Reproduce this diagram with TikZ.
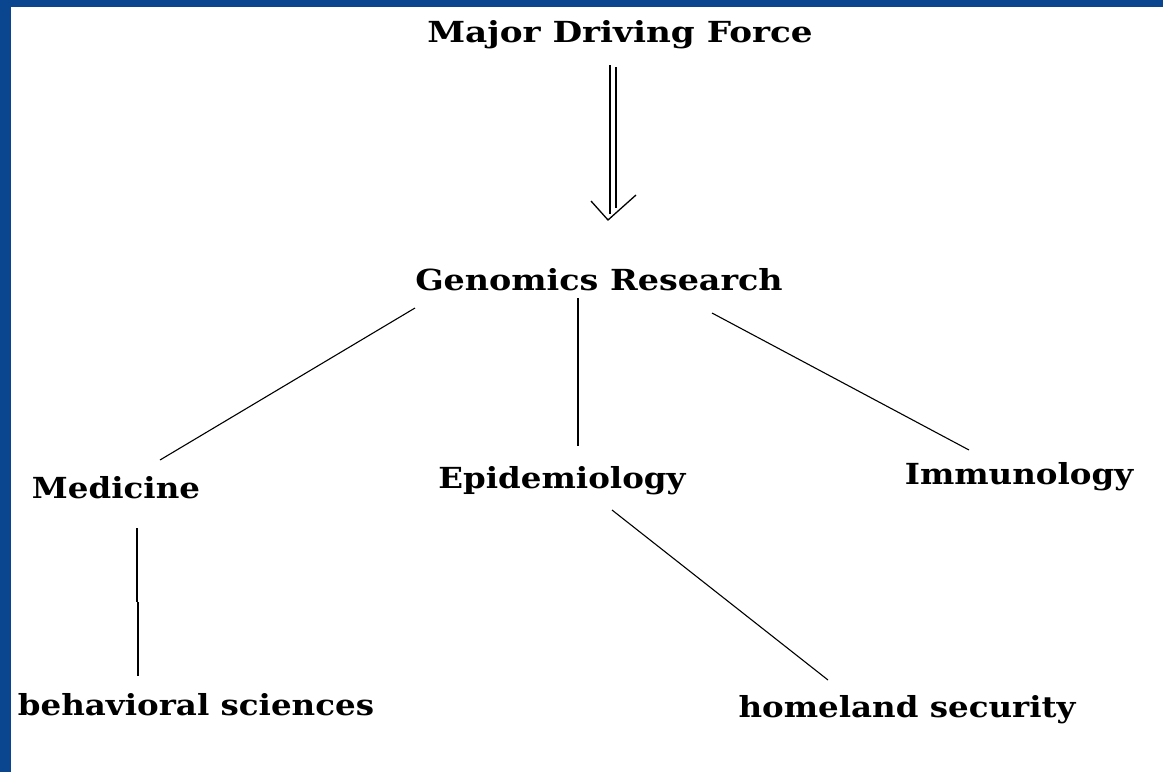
\documentclass[tikz,border=0pt]{standalone}
\usepackage{fontspec}
\setmainfont{DejaVu Serif}[FakeStretch=1.12]
\newfontfamily\widefont{DejaVu Serif}[FakeStretch=1.18]
\newfontfamily\midfont{DejaVu Serif}[FakeStretch=1.15]
\definecolor{slideblue}{HTML}{0A4690}
\tikzset{
  lbl/.style={anchor=base, inner sep=0pt, font=\fontsize{29}{34}\selectfont\bfseries},
  conn/.style={draw=black, line width=1.1pt},
  arr/.style={draw=black, line width=1.3pt},
}
\begin{document}
\begin{tikzpicture}[x=1pt,y=-1pt]
\useasboundingbox (0,0) rectangle (1163,772);
\fill[slideblue] (0,0) rectangle (1163,772);
\fill[white] (11,7) rectangle (1163,772);

\node[lbl] (mdf) at (620,42) {\widefont\bfseries Major Driving Force};
\node[lbl] (gen) at (599,290) {\midfont\bfseries Genomics Research};
\node[lbl] (med) at (116,498) {Medicine};
\node[lbl] (epi) at (562,488) {Epidemiology};
\node[lbl] (imm) at (1019,484) {Immunology};
\node[lbl] (beh) at (196,715) {behavioral sciences};
\node[lbl] (hom) at (907,717) {homeland security};

% double arrow
\coordinate (a1) at (610,65);
\coordinate (a2) at (616,67);
\coordinate (b1) at (610,214);
\coordinate (b2) at (616,208);
\coordinate (tip) at (608,220);
\coordinate (wl) at (591,201);
\coordinate (wr) at (636,195);
\draw[arr] (a1) -- (b1);
\draw[arr] (a2) -- (b2);
\draw[arr] (wl) -- (tip) -- (wr);

% connectors
\coordinate (g1) at (415,308);
\coordinate (m1) at (160,460);
\coordinate (g2) at (578,298);
\coordinate (e1) at (578,446);
\coordinate (g3) at (712,313);
\coordinate (i1) at (969,450);
\coordinate (m2) at (137,528);
\coordinate (mj1) at (137,602);
\coordinate (mj2) at (138,602);
\coordinate (b0) at (138,676);
\coordinate (e2) at (612,510);
\coordinate (h1) at (828,680);
\draw[conn] (g1) -- (m1);
\draw[conn] (g2) -- (e1);
\draw[conn] (g3) -- (i1);
\draw[conn] (m2) -- (mj1);
\draw[conn] (mj2) -- (b0);
\draw[conn] (e2) -- (h1);
\end{tikzpicture}
\end{document}
